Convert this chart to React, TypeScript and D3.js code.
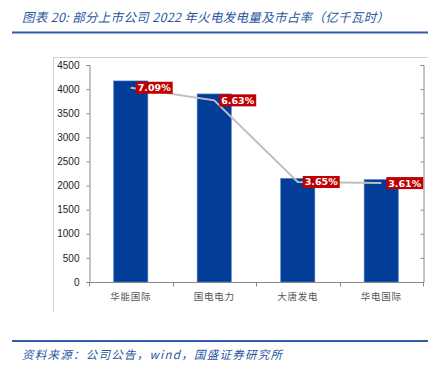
import React, { useEffect, useRef } from "react";
import * as d3 from "d3";

const categories = ["华能国际", "国电电力", "大唐发电", "华电国际"];
const generation = [4170, 3900, 2150, 2125];
const shareValues = [7.09, 6.63, 3.65, 3.61];
const shareLabels = ["7.09%", "6.63%", "3.65%", "3.61%"];
const leftTicks = [0, 500, 1000, 1500, 2000, 2500, 3000, 3500, 4000, 4500];
const titleText = "图表 20:  部分上市公司 2022 年火电发电量及市占率（亿千瓦时）";
const sourceText = "资料来源：公司公告，wind，国盛证券研究所";

const W = 444;
const H = 377;

export default function App() {
  const ref = useRef<SVGSVGElement>(null);

  useEffect(() => {
    const svg = d3.select(ref.current);
    svg.selectAll("*").remove();

    const blue = "#2A56A0";
    // title
    svg.append("text")
      .attr("x", 22).attr("y", 22)
      .attr("font-family", "'Noto Sans CJK SC', sans-serif")
      .attr("font-style", "italic")
      .attr("font-size", 12.5)
      .attr("fill", blue)
      .attr("textLength", 367)
      .attr("lengthAdjust", "spacing")
      .text(titleText);
    svg.append("line").attr("x1", 12).attr("x2", 428).attr("y1", 32.5).attr("y2", 32.5)
      .attr("stroke", "#2F5BA7").attr("stroke-width", 2);

    // footer
    svg.append("line").attr("x1", 12).attr("x2", 428).attr("y1", 341).attr("y2", 341)
      .attr("stroke", "#2F5BA7").attr("stroke-width", 2);
    svg.append("text")
      .attr("x", 22).attr("y", 359)
      .attr("font-family", "'Noto Sans CJK SC', sans-serif")
      .attr("font-style", "italic")
      .attr("font-size", 11.5)
      .attr("fill", blue)
      .attr("textLength", 260)
      .attr("lengthAdjust", "spacing")
      .text(sourceText);

    // chart frame
    svg.append("path").attr("d", "M53.5,312 V57.5 H428")
      .attr("fill", "none").attr("stroke", "#D0D0D0").attr("stroke-width", 1);

    const left = 89, right = 423, top = 65, bottom = 282;
    const x = d3.scaleBand<string>().domain(categories).range([left, right]).paddingInner(0.59).paddingOuter(0.295);
    const xOuter = d3.scaleBand<string>().domain(categories).range([left, right]);
    const y = d3.scaleLinear().domain([0, 4500]).range([bottom, top]);
    const y2 = d3.scaleLinear().domain([0, 7.92]).range([bottom, top]);

    const axisColor = "#888888";

    // bars
    svg.append("g").selectAll("rect").data(categories).join("rect")
      .attr("x", (d) => x(d)!)
      .attr("width", x.bandwidth())
      .attr("y", (d, i) => y(generation[i]))
      .attr("height", (d, i) => y(0) - y(generation[i]))
      .attr("fill", "#023E97")
      .attr("stroke", "#5F86C6")
      .attr("stroke-width", 0.6);

    // left axis
    const gl = svg.append("g").attr("transform", `translate(${left + 0.5},0)`)
      .call(d3.axisLeft(y).tickValues(leftTicks).tickSize(3).tickPadding(7).tickFormat(d3.format("d")));
    gl.select(".domain").attr("stroke", axisColor);
    gl.selectAll(".tick line").attr("stroke", axisColor);
    gl.selectAll(".tick text").attr("font-family", "'Liberation Sans', Arial, sans-serif").attr("font-size", 10).attr("fill", "#222");

    // right axis (no labels)
    const gr = svg.append("g").attr("transform", `translate(${right + 0.5},0)`)
      .call(d3.axisLeft(y).tickValues(leftTicks).tickSize(3).tickFormat(() => ""));
    gr.select(".domain").attr("stroke", axisColor);
    gr.selectAll(".tick line").attr("stroke", axisColor);

    // bottom axis
    const gb = svg.append("g").attr("transform", `translate(0,${bottom + 0.5})`);
    gb.append("line").attr("x1", left).attr("x2", right).attr("stroke", axisColor);
    const bounds = categories.map((c) => xOuter(c)!).concat([right]);
    gb.selectAll("line.tk").data(bounds).join("line").attr("class", "tk")
      .attr("x1", (d) => Math.round(d) + 0.5).attr("x2", (d) => Math.round(d) + 0.5)
      .attr("y1", 0).attr("y2", 4).attr("stroke", axisColor);
    gb.selectAll("text").data(categories).join("text")
      .attr("x", (d) => xOuter(d)! + xOuter.bandwidth() / 2)
      .attr("y", 17)
      .attr("text-anchor", "middle")
      .attr("font-family", "'Noto Sans CJK SC', sans-serif")
      .attr("font-size", 9.5)
      .attr("letter-spacing", 0.8)
      .attr("fill", "#555")
      .text((d) => d);

    // share line
    const pts: [number, number][] = categories.map((c, i) => [x(c)! + x.bandwidth() / 2, y2(shareValues[i])]);
    svg.append("path").attr("d", d3.line()(pts)!)
      .attr("fill", "none").attr("stroke", "#BFBFBF").attr("stroke-width", 2);

    // labels
    const lg = svg.append("g");
    pts.forEach((p, i) => {
      const g = lg.append("g").attr("transform", `translate(${p[0] + 5},${p[1]})`);
      const t = g.append("text")
        .attr("x", 2).attr("y", 3.5)
        .attr("font-family", "'DejaVu Sans', Verdana, sans-serif")
        .attr("font-weight", "bold")
        .attr("font-size", 9.5)
        .attr("fill", "#fff")
        .text(shareLabels[i]);
      const w = (t.node() as SVGTextElement).getComputedTextLength();
      g.insert("rect", "text").attr("x", 0).attr("y", -6).attr("width", w + 4).attr("height", 12)
        .attr("fill", "#C00000");
    });
  }, []);

  return (
    <svg ref={ref} width={W} height={H} style={{ position: "absolute", left: 0, top: 0, background: "#fff" }} />
  );
}
